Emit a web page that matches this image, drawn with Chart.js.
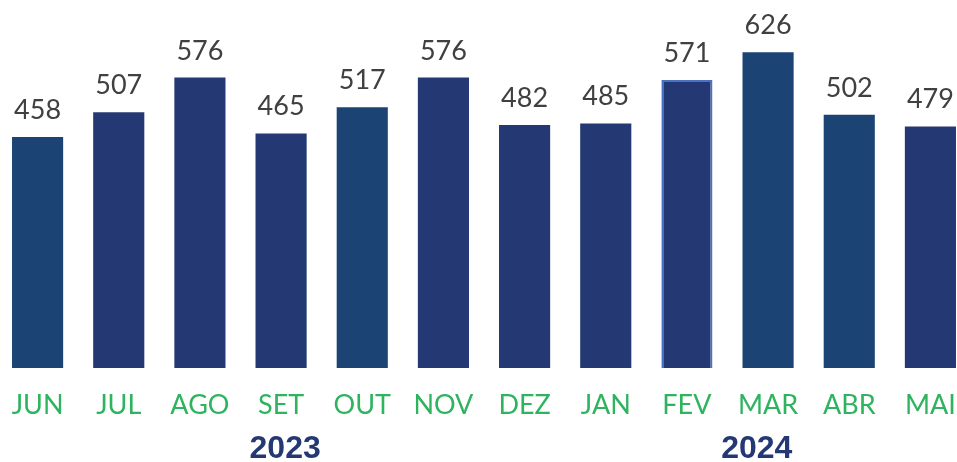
<!DOCTYPE html>
<html>
<head>
<meta charset="utf-8">
<script src="https://cdn.jsdelivr.net/npm/chart.js@4/dist/chart.umd.min.js"></script>
<style>
    html, body { margin: 0; padding: 0; background: #fff; overflow: hidden; }
    /* plot runs a bit past both window edges, like the original */
    .chart-container { position: absolute; left: -3px; top: 0; width: 974px; height: 462px; }
</style>
</head>
<body>
<div class="chart-container">
    <canvas id="myChartBar"></canvas>
</div>
<script>
// months jun/2023 - mai/2024
const months = ['JUN', 'JUL', 'AGO', 'SET', 'OUT', 'NOV', 'DEZ', 'JAN', 'FEV', 'MAR', 'ABR', 'MAI'];
const values = [458, 507, 576, 465, 517, 576, 482, 485, 571, 626, 502, 479];
const years = ['2023', '2024'];
// where each year sits, in category units
const yearAt = [3.05, 8.86];

const navy = '#243874';
const steel = '#1b4474';
let barColors = [steel, navy, navy, navy, steel, navy, navy, navy, navy, steel, steel, navy];
let borderColors = barColors.map((c, i) => i === 8 ? '#4a72c4' : c);

const valueLabels = {
    id: 'valueLabels',
    afterDatasetsDraw(chart) {
        let ctx = chart.ctx;
        let meta = chart.getDatasetMeta(0);
        ctx.save();
        ctx.font = '27px Lato';
        ctx.fillStyle = '#404040';
        ctx.textAlign = 'center';
        ctx.textBaseline = 'alphabetic';
        meta.data.forEach((bar, i) => {
            ctx.fillText(values[i], bar.x, bar.y - 18);
        });
        ctx.restore();
    }
};

const yearLabels = {
    id: 'yearLabels',
    afterDraw(chart) {
        let ctx = chart.ctx;
        let xScale = chart.scales.x;
        ctx.save();
        ctx.font = 'bold 32px "Liberation Sans"';
        ctx.fillStyle = '#243874';
        ctx.textAlign = 'center';
        ctx.textBaseline = 'middle';
        years.forEach((y, i) => {
            ctx.fillText(y, xScale.getPixelForValue(yearAt[i]), 449);
        });
        ctx.restore();
    }
};

let myChartBar = new Chart(document.getElementById('myChartBar'), {
    type: 'bar',
    data: {
        labels: months,
        datasets: [{
            data: values,
            backgroundColor: barColors,
            borderColor: borderColors,
            borderWidth: values.map((v, i) => i === 8 ? 2 : 0),
            barPercentage: 0.63,
            categoryPercentage: 1
        }]
    },
    options: {
        responsive: true,
        maintainAspectRatio: false,
        animation: false,
        layout: {
            padding: { top: 15, bottom: 40, left: 0, right: 0 }
        },
        plugins: {
            legend: { display: false },
            tooltip: { enabled: false }
        },
        scales: {
            x: {
                grid: { display: false },
                border: { display: false },
                ticks: {
                    color: '#2eb35f',
                    font: { family: 'Lato', size: 27 },
                    padding: 10,
                    maxRotation: 0,
                    autoSkip: false
                },
                afterFit(scale) {
                    // no edge padding for the first/last label, fixed axis height
                    scale.paddingLeft = 0;
                    scale.paddingRight = 0;
                    scale.height = 51;
                }
            },
            y: {
                display: false,
                min: -6,
                max: 700
            }
        }
    },
    plugins: [valueLabels, yearLabels]
});
</script>
</body>
</html>
